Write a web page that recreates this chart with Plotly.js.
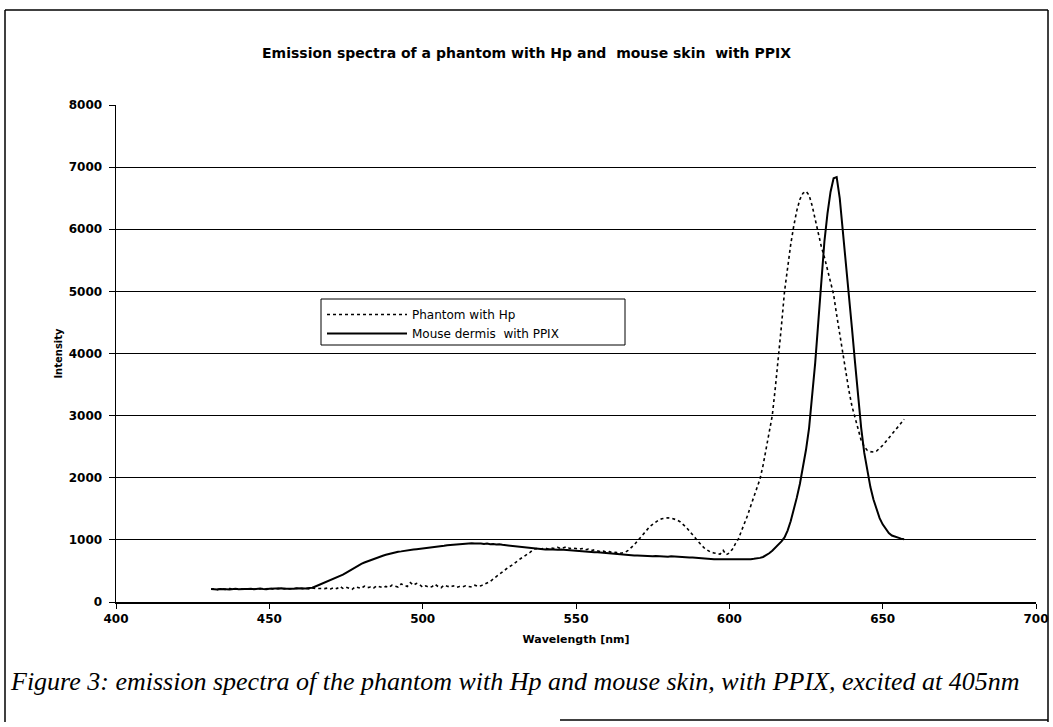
<!DOCTYPE html>
<html>
<head>
<meta charset="utf-8">
<script src="https://cdn.plot.ly/plotly-3.0.1.min.js"></script>
<style>
  html, body { margin: 0; padding: 0; background: #ffffff; }
  #chart { width: 1053px; height: 727px; }
</style>
</head>
<body>
<div id="chart"></div>
<script>
// ---- Data ----
const wavelength = [
  431,432,433,434,435,436,437,438,439,440,441,442,443,444,445,446,447,448,449,450,
  451,452,453,454,455,456,457,458,459,460,461,462,463,464,465,466,467,468,469,470,
  471,472,473,474,475,476,477,478,479,480,481,482,483,484,485,486,487,488,489,490,
  491,492,493,494,495,496,497,498,499,500,501,502,503,504,505,506,507,508,509,510,
  511,512,513,514,515,516,517,518,519,520,521,522,523,524,525,526,527,528,529,530,
  531,532,533,534,535,536,537,538,539,540,541,542,543,544,545,546,547,548,549,550,
  551,552,553,554,555,556,557,558,559,560,561,562,563,564,565,566,567,568,569,570,
  571,572,573,574,575,576,577,578,579,580,581,582,583,584,585,586,587,588,589,590,
  591,592,593,594,595,596,597,598,599,600,601,602,603,604,605,606,607,608,609,610,
  611,612,613,614,615,616,617,618,619,620,621,622,623,624,625,626,627,628,629,630,
  631,632,633,634,635,636,637,638,639,640,641,642,643,644,645,646,647,648,649,650,
  651,652,653,654,655,656,657
];

const phantomHp = [
  205,210,200,212,208,203,215,210,206,212,
  209,214,207,211,205,216,210,208,213,220,
  211,207,215,212,218,210,214,209,216,222,
  215,220,212,225,218,214,220,216,224,210,
  230,215,250,220,240,225,205,245,235,220,
  255,230,240,225,260,245,230,250,235,270,
  255,240,290,265,250,310,270,300,280,240,
  260,240,245,285,250,230,270,255,240,260,
  235,250,245,260,255,240,270,250,260,280,
  300,
  330,370,410,450,480,520,560,590,630,
  660,700,730,760,800,840,860,850,860,870,
  850,870,860,880,860,870,890,860,870,860,
  850,860,840,850,830,840,830,810,820,800,
  810,790,800,780,790,800,830,870,920,980,
  1040,1100,1160,1210,1250,1290,1320,1340,1350,1355,
  1350,1340,1320,1290,1250,1200,1140,1080,1020,960,
  910,860,830,800,790,780,770,830,760,790,
  850,940,1020,1150,1270,1400,1550,1700,1850,1980,
  2200,2450,2700,3000,3450,3900,4450,5000,5400,5750,
  6050,6300,6480,6580,6610,6550,6380,6150,5900,5720,
  5550,5350,5150,4950,4620,4300,4000,3700,3400,3150,
  2950,2750,2600,2500,2440,2420,2415,2430,2470,2520,
  2580,2640,2700,2760,2820,2880,2940
];

const mouseDermis = [
  210,205,200,208,212,206,200,210,215,207,
  203,211,209,214,206,212,218,210,205,213,
  216,209,212,220,214,210,217,213,220,216,
  222,218,225,
  230,250,270,290,310,330,350,
  370,390,410,440,470,500,530,560,590,615,
  635,655,675,695,715,730,745,760,775,790,
  800,810,815,825,830,840,845,850,855,860,
  870,875,880,890,895,900,905,915,920,925,
  930,935,935,940,940,945,940,945,940,935,
  940,930,935,925,930,920,915,910,905,900,
  895,890,880,875,870,860,855,850,850,845,
  850,845,850,840,845,840,835,840,830,830,
  825,820,815,810,805,800,800,795,790,785,
  785,780,775,770,765,760,760,755,750,750,
  745,745,740,740,735,740,735,730,735,730,
  735,730,725,730,725,720,715,715,710,705,
  700,700,695,695,690,690,690,685,685,680,
  685,680,685,680,685,690,690,695,700,710,
  725,750,785,825,870,920,975,1040,1150,1300,
  1480,1680,1900,2150,2450,2800,3300,3850,4500,5200,
  5800,6250,6600,6820,6840,6500,6000,5500,5000,4400,
  3850,3300,2800,2400,2100,1850,1650,1480,1350,1250,
  1170,1110,1070,1050,1030,1020,1010
];

const seriesNames = ["Phantom with Hp", "Mouse dermis  with PPIX"];
const xTickValues = [400, 450, 500, 550, 600, 650, 700];
const yTickValues = [0, 1000, 2000, 3000, 4000, 5000, 6000, 7000, 8000];

const chartTitle = "Emission spectra of a phantom with Hp and  mouse skin  with PPIX";
const xTitle = "Wavelength [nm]";
const yTitle = "Intensity";
const caption = "Figure 3: emission spectra of the phantom with Hp and mouse skin, with PPIX, excited at 405nm";

// ---- Traces ----
const traces = [
  {
    x: wavelength, y: phantomHp, name: seriesNames[0],
    type: "scatter", mode: "lines",
    line: { color: "#000000", width: 1.6, dash: "dot" }
  },
  {
    x: wavelength, y: mouseDermis, name: seriesNames[1],
    type: "scatter", mode: "lines",
    line: { color: "#000000", width: 2 }
  }
];

const W = 1053, H = 727;
const L = 116, R = 1036, T = 105, B = 602;
const pw = R - L, ph = B - T;
const px = (x) => (x - L) / pw;         // pixel -> paper x
const py = (y) => (B - y) / ph;         // pixel -> paper y

const layout = {
  width: W, height: H,
  margin: { l: L, r: W - R, t: T, b: H - B, pad: 0 },
  paper_bgcolor: "#ffffff",
  plot_bgcolor: "#ffffff",
  showlegend: true,
  title: {
    text: chartTitle,
    font: { family: "DejaVu Sans", size: 14, color: "#000000", weight: "bold" },
    x: 0.5, xref: "container", xanchor: "center",
    y: 1 - 53 / H, yref: "container", yanchor: "middle"
  },
  xaxis: {
    range: [400, 700],
    tickmode: "array", tickvals: xTickValues,
    ticks: "outside", ticklen: 5, tickwidth: 1, tickcolor: "#000000",
    showgrid: false, zeroline: false,
    showline: true, linecolor: "#000000", linewidth: 1.5,
    tickfont: { family: "DejaVu Sans", size: 12, color: "#000000", weight: "bold" },
    title: {
      text: xTitle, standoff: 10,
      font: { family: "DejaVu Sans", size: 11, color: "#000000", weight: "bold" }
    },
    automargin: false
  },
  yaxis: {
    range: [0, 8000],
    tickmode: "array", tickvals: yTickValues,
    ticks: "outside", ticklen: 6, tickwidth: 1, tickcolor: "#000000",
    ticklabelstandoff: 4,
    showgrid: true, gridcolor: "#000000", gridwidth: 1,
    zeroline: false,
    showline: true, linecolor: "#000000", linewidth: 1.5,
    tickfont: { family: "DejaVu Sans", size: 12, color: "#000000", weight: "bold" },
    title: {
      text: yTitle, standoff: 4,
      font: { family: "DejaVu Sans", size: 10, color: "#000000", weight: "bold" }
    },
    automargin: false
  },
  legend: {
    x: px(322), y: py(300), xanchor: "left", yanchor: "top",
    bgcolor: "rgba(0,0,0,0)", borderwidth: 0,
    font: { family: "DejaVu Sans", size: 12, color: "#000000" },
    itemwidth: 80,
    tracegroupgap: 0
  },
  annotations: [
    {
      text: caption, showarrow: false,
      xref: "paper", yref: "paper",
      x: px(8), y: py(681), xanchor: "left", yanchor: "middle",
      font: { family: "Liberation Serif", size: 26, color: "#000000", style: "italic" }
    }
  ],
  shapes: [
    // legend box
    { type: "rect", xref: "paper", yref: "paper", x0: px(321), x1: px(625), y0: py(345), y1: py(299), fillcolor: "#ffffff", line: { color: "#000000", width: 1 }, layer: "above" },
    // outer frame of the figure
    { type: "line", xref: "paper", yref: "paper", x0: px(5), x1: px(1048), y0: py(10), y1: py(10), line: { color: "#000000", width: 1.5 }, layer: "above" },
    { type: "line", xref: "paper", yref: "paper", x0: px(5), x1: px(5), y0: py(10), y1: py(722), line: { color: "#000000", width: 1.5 }, layer: "above" },
    { type: "line", xref: "paper", yref: "paper", x0: px(1048), x1: px(1048), y0: py(10), y1: py(722), line: { color: "#000000", width: 1.5 }, layer: "above" },
    { type: "line", xref: "paper", yref: "paper", x0: px(560), x1: px(1048), y0: py(720), y1: py(720), line: { color: "#000000", width: 1.5 }, layer: "above" },
    // clip the right edge like the reference
    { type: "rect", xref: "paper", yref: "paper", x0: px(1049), x1: px(1060), y0: py(0), y1: py(727), fillcolor: "#ffffff", line: { width: 0 }, layer: "above" }
  ]
};

Plotly.newPlot("chart", traces, layout, { displayModeBar: false, staticPlot: true });
</script>
</body>
</html>
